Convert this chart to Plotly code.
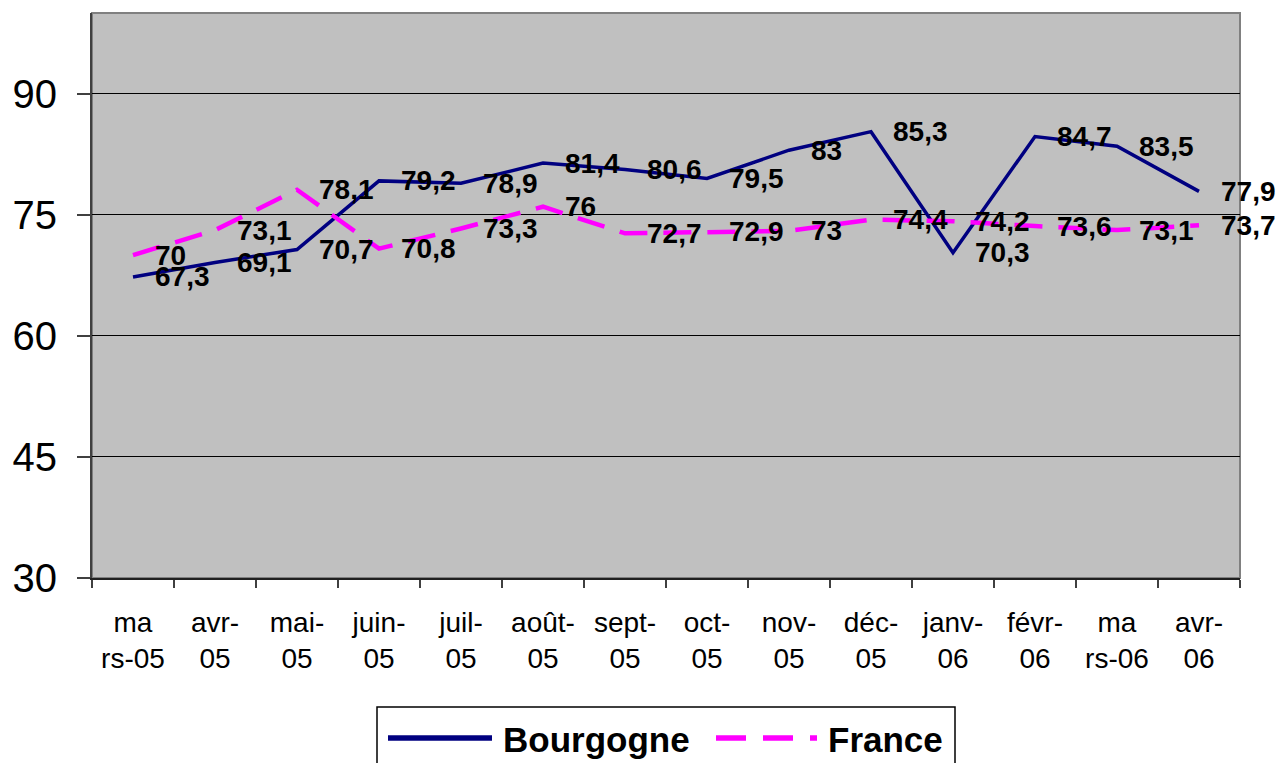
import plotly.graph_objects as go

categories = ["mars-05", "avr-05", "mai-05", "juin-05", "juil-05", "août-05", "sept-05",
              "oct-05", "nov-05", "déc-05", "janv-06", "févr-06", "mars-06", "avr-06"]
tick_labels = ["ma<br>rs-05", "avr-<br>05", "mai-<br>05", "juin-<br>05", "juil-<br>05",
               "août-<br>05", "sept-<br>05", "oct-<br>05", "nov-<br>05", "déc-<br>05",
               "janv-<br>06", "févr-<br>06", "ma<br>rs-06", "avr-<br>06"]
bourgogne = [67.3, 69.1, 70.7, 79.2, 78.9, 81.4, 80.6, 79.5, 83.0, 85.3, 70.3, 84.7, 83.5, 77.9]
france = [70.0, 73.1, 78.1, 70.8, 73.3, 76.0, 72.7, 72.9, 73.0, 74.4, 74.2, 73.6, 73.1, 73.7]
y_ticks = [30, 45, 60, 75, 90]

FONT = "Liberation Sans, Arial, sans-serif"
NAVY = "#000080"
MAGENTA = "#FF00FF"
DASH = "28px,16px"


def fmt(v):
    s = ("%.1f" % v).rstrip("0").rstrip(".")
    return s.replace(".", ",")


fig = go.Figure()
fig.add_trace(go.Scatter(x=categories, y=bourgogne, mode="lines", name="Bourgogne",
                         line=dict(color=NAVY, width=3.5), showlegend=False))
fig.add_trace(go.Scatter(x=categories, y=france, mode="lines", name="France",
                         line=dict(color=MAGENTA, width=4.5, dash=DASH), showlegend=False))

annotations = []
for series in (france, bourgogne):
    for c, v in zip(categories, series):
        annotations.append(dict(x=c, y=v, xref="x", yref="y", text=fmt(v), showarrow=False,
                                xanchor="left", yanchor="middle", xshift=20,
                                font=dict(family=FONT, size=28, color="black", weight="bold")))


# custom legend
def px_x(p):
    return (p - 92) / 1148.0


def px_y(p):
    return (578 - p) / 565.0


shapes = [
    dict(type="rect", xref="paper", yref="paper", x0=0, x1=1, y0=0, y1=1,
         line=dict(color="#808080", width=2), layer="below"),
    dict(type="rect", xref="paper", yref="paper", x0=px_x(377), x1=px_x(955),
         y0=px_y(785), y1=px_y(707), line=dict(color="black", width=1.5), fillcolor="white"),
    dict(type="line", xref="paper", yref="paper", x0=px_x(388), x1=px_x(492),
         y0=px_y(738), y1=px_y(738), line=dict(color=NAVY, width=5.5)),
    dict(type="line", xref="paper", yref="paper", x0=px_x(716), x1=px_x(817),
         y0=px_y(738), y1=px_y(738), line=dict(color=MAGENTA, width=5.5, dash="30px,17px")),
]
annotations.append(dict(x=px_x(501), y=px_y(739), xref="paper", yref="paper", text="Bourgogne",
                        showarrow=False, xanchor="left", yanchor="middle",
                        font=dict(family=FONT, size=35, color="black", weight="bold")))
annotations.append(dict(x=px_x(826), y=px_y(739), xref="paper", yref="paper", text="France",
                        showarrow=False, xanchor="left", yanchor="middle",
                        font=dict(family=FONT, size=35, color="black", weight="bold")))

fig.update_layout(
    width=1284, height=763,
    margin=dict(l=92, r=44, t=13, b=185, autoexpand=False),
    paper_bgcolor="white", plot_bgcolor="#C0C0C0",
    font=dict(family=FONT, color="black"),
    showlegend=False,
    annotations=annotations,
    shapes=shapes,
)
fig.update_xaxes(
    type="category", categoryorder="array", categoryarray=categories,
    tickvals=categories, ticktext=tick_labels, automargin=False,
    range=[-0.5, 13.5], tickson="boundaries", ticks="outside", ticklen=8,
    tickcolor="#404040", tickwidth=1.5,
    showline=True, linecolor="#202020", linewidth=2, showgrid=False,
    tickfont=dict(family=FONT, size=28, color="black"),
    ticklabelstandoff=18,
)
fig.update_yaxes(
    range=[30, 100], tickvals=y_ticks, ticks="outside", ticklen=13, automargin=False,
    tickcolor="#404040", tickwidth=1.5,
    showline=True, linecolor="#404040", linewidth=2,
    showgrid=True, gridcolor="black", gridwidth=1, zeroline=False,
    tickfont=dict(family=FONT, size=40, color="black"),
    ticklabelstandoff=12,
)

fig.write_html("out.html", config={"displayModeBar": False},
               post_script="document.body.style.margin='0';document.body.style.overflow='hidden';")
